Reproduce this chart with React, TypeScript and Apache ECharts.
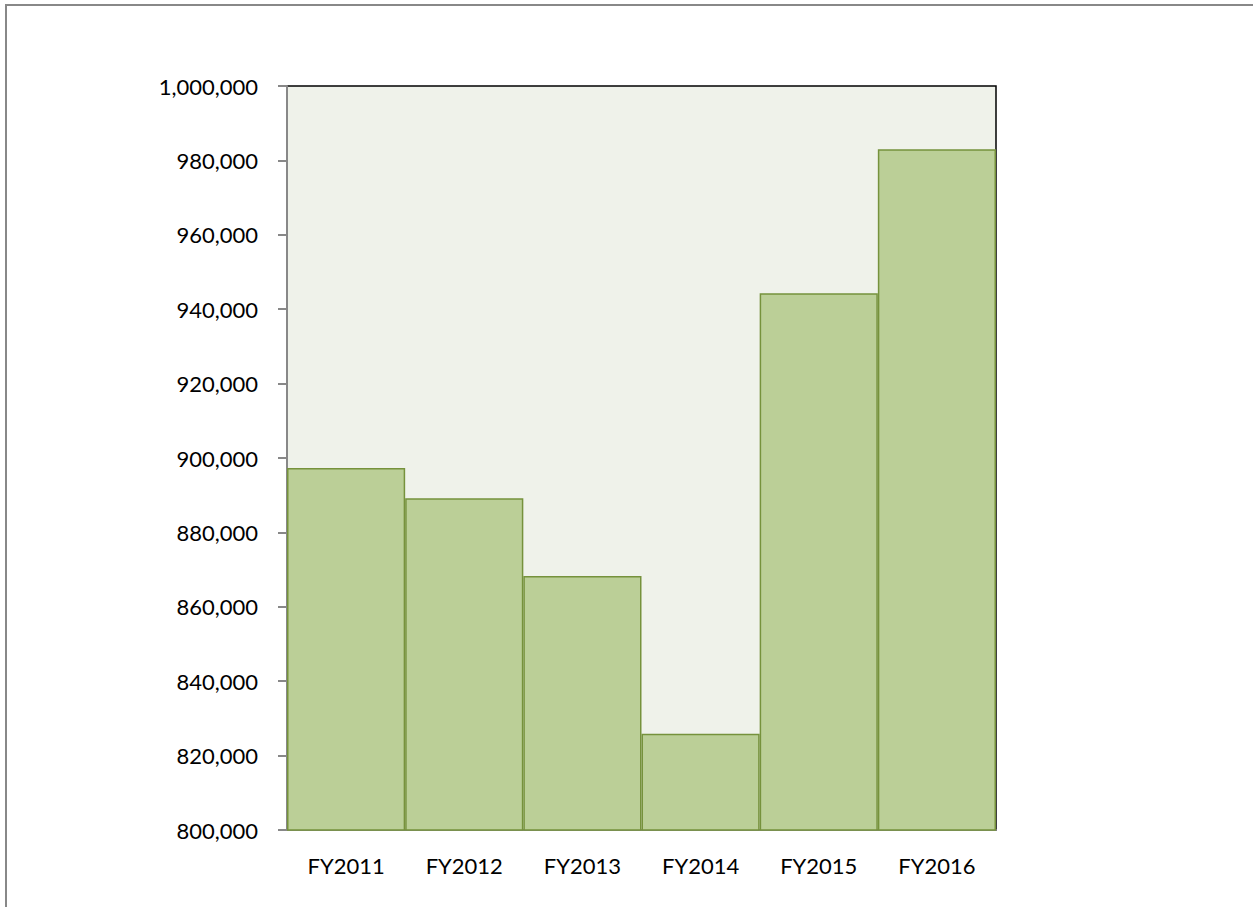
import React, { useEffect, useRef } from "react";
import * as echarts from "echarts";

const categories = ["FY2011", "FY2012", "FY2013", "FY2014", "FY2015", "FY2016"];
const values = [897300, 889200, 868300, 825900, 944300, 983000];
const yMin = 800000;
const yMax = 1000000;
const yInterval = 20000;

export default function App() {
  const ref = useRef<HTMLDivElement>(null);
  useEffect(() => {
    if (!ref.current) return;
    const chart = echarts.init(ref.current, null, { renderer: "svg" });
    chart.setOption({
      animation: false,
      backgroundColor: "#ffffff",
      textStyle: { fontFamily: "Lato" },
      graphic: [
        {
          type: "rect",
          shape: { x: 6, y: 5, width: 1260, height: 920 },
          style: { fill: "none", stroke: "#888888", lineWidth: 2 },
          silent: true,
        },
      ],
      grid: {
        left: 287,
        right: 257,
        top: 86,
        bottom: 77,
        show: true,
        backgroundColor: "#EFF2EA",
        borderColor: "#000000",
        borderWidth: 1.5,
      },
      xAxis: {
        type: "category",
        data: categories,
        axisLine: { show: true, lineStyle: { color: "#888888", width: 2 } },
        axisTick: { show: false },
        axisLabel: { color: "#000000", fontSize: 22, margin: 24, fontFamily: "Lato" },
      },
      yAxis: {
        type: "value",
        min: yMin,
        max: yMax,
        interval: yInterval,
        splitLine: { show: false },
        axisLine: { show: true, lineStyle: { color: "#888888", width: 2 } },
        axisTick: { show: true, length: 9, lineStyle: { color: "#888888", width: 2 } },
        axisLabel: {
          color: "#000000",
          fontSize: 22,
          margin: 29,
          fontFamily: "Lato",
          formatter: (v: number) => v.toLocaleString("en-US"),
        },
      },
      series: [
        {
          type: "bar",
          data: values,
          barCategoryGap: "0%",
          itemStyle: { color: "#BBCF97", borderColor: "#76923C", borderWidth: 1.5 },
        },
      ],
    });
    return () => chart.dispose();
  }, []);
  return (
    <div
      ref={ref}
      style={{ position: "absolute", left: 0, top: 0, width: 1253, height: 907 }}
    />
  );
}
